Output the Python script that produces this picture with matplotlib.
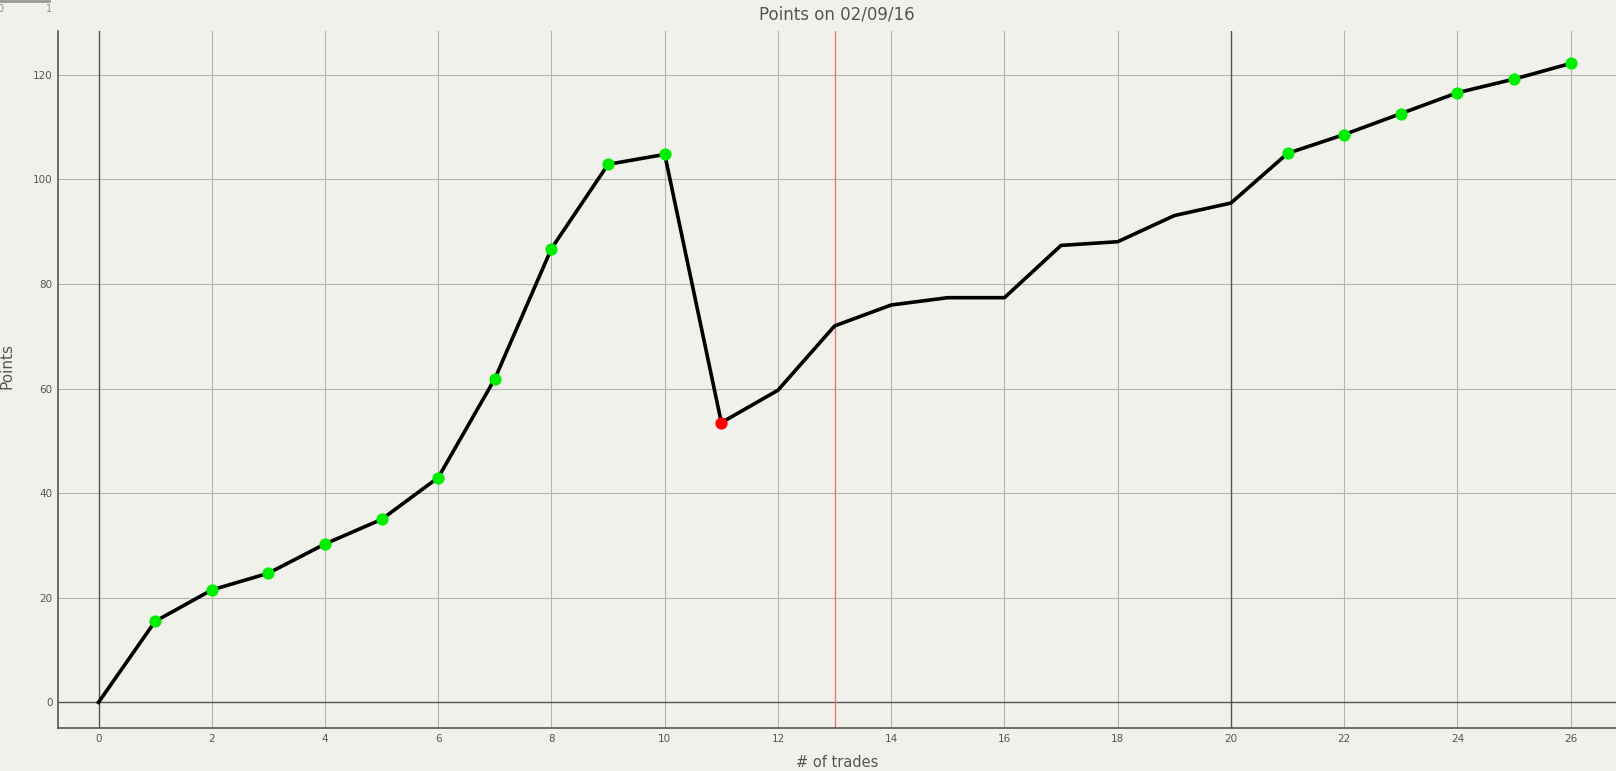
import matplotlib
matplotlib.use("Agg")
import matplotlib.pyplot as plt
import numpy as np

# Data
trades = list(range(0, 27))
points = [0, 15.5, 21.5, 24.7, 30.3, 35.0, 43.0, 61.9, 86.8, 102.9, 104.8,
          53.5, 59.7, 72.0, 76.0, 77.4, 77.4, 87.4, 88.1, 93.1, 95.5,
          105.0, 108.6, 112.6, 116.6, 119.2, 122.2]
# marker status per trade: 'win', 'loss' or None
status = [None, 'win', 'win', 'win', 'win', 'win', 'win', 'win', 'win', 'win', 'win',
          'loss', None, None, None, None, None, None, None, None, None,
          'win', 'win', 'win', 'win', 'win', 'win']
xticks = list(range(0, 27, 2))
yticks = [0, 20, 40, 60, 80, 100, 120]
marker_x = 13
title = "Points on 02/09/16"

bg = "#f1f1ec"
txt = "#555555"

fig = plt.figure(figsize=(16.16, 7.71), dpi=100, facecolor=bg)
ax = fig.add_axes([58.3 / 1616, 43 / 771, 1 - 58.3 / 1616, (728 - 31) / 771])
ax.set_facecolor(bg)

ax.set_xlim(-0.71, 26.8)
ax.set_ylim(-4.9, 128.4)
ax.set_xticks(xticks)
ax.set_yticks(yticks)
ax.grid(True, color="#b2b2b2", lw=0.75)
ax.set_axisbelow(True)
ax.tick_params(length=0, labelsize=7.5, colors=txt, pad=4)

for s in ["top", "right"]:
    ax.spines[s].set_visible(False)
for s in ["left", "bottom"]:
    ax.spines[s].set_color("#555555")
    ax.spines[s].set_linewidth(1.2)

ax.axhline(0, color="#555555", lw=1.0, zorder=1)
ax.axvline(0, color="#555555", lw=1.0, zorder=1)
ax.axvline(20, color="#555555", lw=1.0, zorder=1)
ax.axvline(marker_x, color="#e87878", lw=1.0, zorder=1)

ax.plot(trades, points, color="black", lw=2.6, zorder=3, solid_joinstyle="miter")
colors = {'win': '#00ee00', 'loss': '#ff0000'}
for x, y, st in zip(trades, points, status):
    if st is not None:
        ax.plot(x, y, 'o', color=colors[st], markersize=8.8, markeredgewidth=0, zorder=4)

ax.set_title(title, fontsize=12, color=txt, pad=8)
ax.set_xlabel("# of trades", fontsize=10.5, color=txt, labelpad=8)
ax.set_ylabel("Points", fontsize=11, color=txt, labelpad=6)
ax.yaxis.set_label_coords(-0.028, 0.52)

# tiny stray axis at top-left
ax2 = fig.add_axes([0, 1 - 0.0015, 49 / 1616, 0.001])
ax2.set_facecolor("none")
ax2.set_xlim(0, 1)
ax2.set_xticks([0, 1])
ax2.set_yticks([])
for s in ["top", "right", "left"]:
    ax2.spines[s].set_visible(False)
ax2.spines["bottom"].set_color("#999999")
ax2.spines["bottom"].set_linewidth(2)
ax2.tick_params(length=0, labelsize=7, colors="#888888", pad=2)

fig.savefig("out.png", dpi=100, facecolor=bg)
